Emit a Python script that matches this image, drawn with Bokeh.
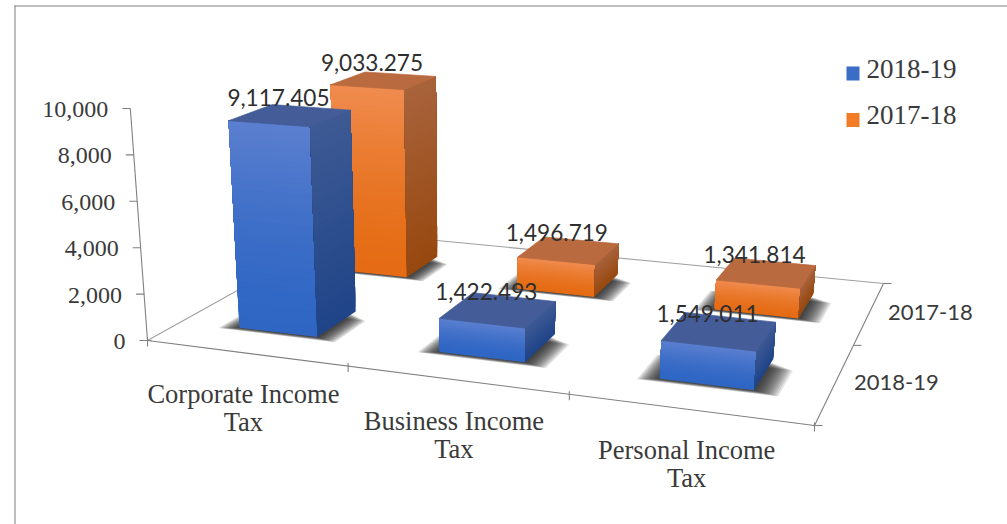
import numpy as np
from bokeh.plotting import figure
from bokeh.models import Range1d
from bokeh.embed import file_html
from bokeh.resources import INLINE
from bokeh.core.properties import value

CATEGORIES = [["Corporate Income", "Tax"], ["Business Income", "Tax"], ["Personal Income", "Tax"]]
SERIES = ["2018-19", "2017-18"]
V_2018_19 = [9117.405, 1422.493, 1549.011]
V_2017_18 = [9033.275, 1496.719, 1341.814]
Y_TICKS = [0, 2000, 4000, 6000, 8000, 10000]

W, H_ = 1007, 524
SERIF = value("Liberation Serif")
SANS = value("Lato")
TXT = "#3a3a3a"

# projection of the 3D box: floor corners + vanishing point for verticals
FL, FR, BR, BL = (147, 340), (814, 425), (883, 283), (343, 231)
XV, YV = 470, 4700
SCALE = 232 / 10000

def homography(src, dst):
    A, b = [], []
    for (u, v), (x, y) in zip(src, dst):
        A.append([u, v, 1, 0, 0, 0, -u * x, -v * x]); b.append(x)
        A.append([0, 0, 0, u, v, 1, -u * y, -v * y]); b.append(y)
    return np.append(np.linalg.solve(np.array(A, float), np.array(b, float)), 1).reshape(3, 3)

HM = homography([(0, 0), (3, 0), (3, 2), (0, 2)], [FL, FR, BR, BL])

def floor(u, v):
    x, y, w = HM @ np.array([u, v, 1.0])
    return x / w, y / w

def proj(u, v, h=0.0):
    x, y = floor(u, v)
    s = SCALE * (1 + (y - 340) / 600) * h
    return x - (XV - x) * s / (YV - y), y - s

def hexmix(a, b, t):
    ca = [int(a[i:i + 2], 16) for i in (1, 3, 5)]
    cb = [int(b[i:i + 2], 16) for i in (1, 3, 5)]
    return "#%02x%02x%02x" % tuple(int(round(p + (q - p) * t)) for p, q in zip(ca, cb))

p = figure(width=W, height=H_, x_range=Range1d(0, W), y_range=Range1d(H_, 0),
           output_backend="svg", toolbar_location=None, min_border=0)
p.axis.visible = False
p.grid.visible = False
p.outline_line_color = None
p.background_fill_color = "#ffffff"

# picture frame
p.line([14.5, 14.5], [5, H_], line_color="#a8a8a8", line_width=1.5)
p.line([14, W], [5.5, 5.5], line_color="#808080", line_width=1.2)

# floor and axes
def seg(a, b, color="#808080", lw=1.1):
    p.line([a[0], b[0]], [a[1], b[1]], line_color=color, line_width=lw)

seg(proj(0, 0), proj(0, 2), "#a0a0a0")
seg(proj(0, 2), proj(3, 2), "#a0a0a0")
seg(proj(3, 2), proj(3, 0), "#808080")
seg(proj(0, 0), proj(3, 0), "#808080")
seg(proj(0, 0), proj(0, 0, 10000), "#808080")

for t in Y_TICKS:
    x, y = proj(0, 0, t)
    seg((x - 8, y), (x + (4 if t == 0 else 0), y))
    p.text([x - 22], [y + 1], text=[f"{t:,}"], text_font=SERIF, text_font_size="24px", text_color=TXT,
           text_align="right", text_baseline="middle")
for i in range(4):
    x, y = floor(i, 0)
    seg((x, y - 3), (x, y + 6))
for j in range(3):
    x, y = floor(3, j)
    seg((x - (2 if j == 0 else 0), y), (x + 8, y))

def face_layers(corner_fn, val, c_low, c_high, gamma=1.0, n=40):
    # painted from the whole face upward, each layer over the last, so no seams show
    xs, ys, cols = [], [], []
    for k in range(n):
        h0 = val * k / n
        t = (k + 0.5) / n
        a, b = corner_fn(h0)
        c2, d = corner_fn(val)
        xs.append([a[0], b[0], d[0], c2[0]]); ys.append([a[1], b[1], d[1], c2[1]])
        cols.append(hexmix(c_low, c_high, t ** gamma))
    p.patches(xs, ys, fill_color=cols, line_color=None)

def bar(c, s, val, dark_front, light_front, side_top, side_bot, top_col):
    u0, u1 = c + 0.5 - 0.2, c + 0.5 + 0.2
    v0, v1 = s + 0.5 - 0.2, s + 0.5 + 0.2
    # soft shadow on the floor
    for k in range(14):
        e = 0.005 * k
        sx = [proj(u0 - 0.005 - e * 1.3, v0 - 0.005 - e * .5), proj(u1 + 0.01 + e * 1.5, v0 - 0.005 - e * .5),
              proj(u1 + 0.01 + e * 1.5, v1 - 0.05 - e), proj(u0 - 0.005 - e * 1.3, v1 - 0.05 - e)]
        p.patch([q[0] for q in sx], [q[1] for q in sx], fill_color="#1a1a1a", fill_alpha=0.11, line_color=None)
    face_layers(lambda h: (proj(u0, v0, h), proj(u1, v0, h)), val, dark_front, light_front, 1.6)
    face_layers(lambda h: (proj(u1, v0, h), proj(u1, v1, h)), val, side_bot, side_top)
    q = [proj(u0, v0, val), proj(u1, v0, val), proj(u1, v1, val), proj(u0, v1, val)]
    p.patch([a[0] for a in q], [a[1] for a in q], fill_color=top_col, line_color=top_col, line_width=0.7)
    cx, cy = proj(c + 0.5, s + 0.5, val)
    p.text([cx - 12], [cy - 18], text=[f"{val:,.3f}"], text_font=SANS, text_font_size="22.6px", text_color="#2e2e2e",
           text_align="center", text_baseline="middle")

for c in range(3):
    bar(c, 1, V_2017_18[c], "#e56c14", "#f08c50", "#a9633c", "#96480e", "#b96a3f")
for c in range(3):
    bar(c, 0, V_2018_19[c], "#2f66c4", "#5c80d0", "#3e5a94", "#1f4488", "#445d99")

# category labels under the front edge
for i, lines in enumerate(CATEGORIES):
    x, y = floor(i + 0.5, 0)
    for k, t in enumerate(lines):
        p.text([x - 2], [y + 41 + 28 * k], text=[t], text_font=SERIF, text_font_size="26.5px", text_color=TXT,
               text_align="center", text_baseline="middle")

# series labels along the right edge
for j, t in enumerate(SERIES):
    x, y = floor(3, j + 0.5)
    p.text([x + 61], [y], text=[t], text_font=SANS, text_font_size="22px", text_color=TXT,
           text_align="center", text_baseline="middle")

# legend
LEG_Y = [73, 119.5]
p.rect([852.5, 852.5], LEG_Y, width=13, height=14, fill_color=["#3b6cc6", "#f47b25"], line_color=None)
for t, y in zip(SERIES, LEG_Y):
    p.text([866], [y - 5], text=[t], text_font=SERIF, text_font_size="27px", text_color=TXT,
           text_align="left", text_baseline="middle")

open("out.html", "w").write(file_html(p, INLINE))
